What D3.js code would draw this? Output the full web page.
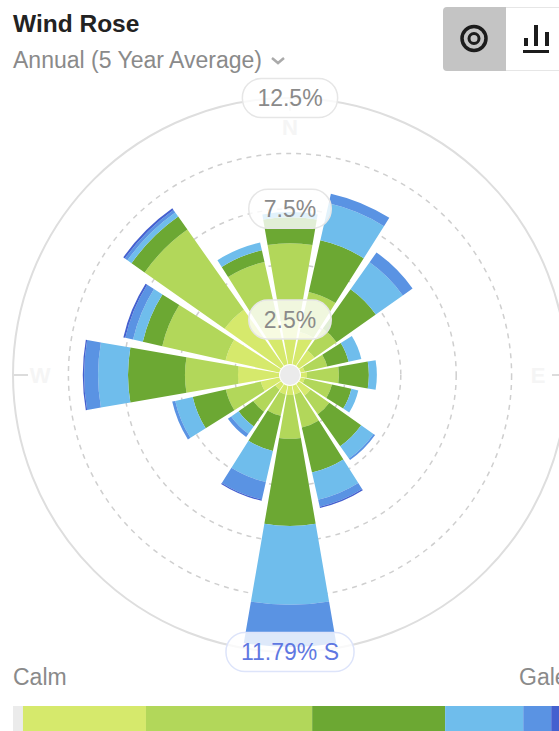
<!DOCTYPE html>
<html>
<head>
<meta charset="utf-8">
<script src="https://cdn.jsdelivr.net/npm/d3@7"></script>
<style>
  html, body { margin: 0; padding: 0; background: #fff; overflow: hidden; }
  svg { display: block; }
  text { font-family: "Liberation Sans", Arial, sans-serif; }
</style>
</head>
<body>
<div class="canvas"></div>
<script>
// directions, clockwise from north
const directions = ["N", "NNE", "NE", "ENE", "E", "ESE", "SE", "SSE", "S", "SSW", "SW", "WSW", "W", "WNW", "NW", "NNW"];

// % of time per speed band
const band1 = [2.48, 1.99, 1.35, 0.68, 0.77, 0.68, 1.13, 0.90, 0.90, 0.90, 0.81, 1.35, 2.35, 2.98, 3.61, 2.48];
const band2 = [3.47, 1.85, 1.22, 1.04, 1.44, 1.26, 1.04, 1.53, 1.98, 0.99, 1.22, 1.62, 2.39, 2.93, 4.42, 2.75];
const band3 = [1.17, 2.39, 2.17, 0.99, 1.35, 0.90, 1.76, 2.08, 3.93, 1.62, 0.81, 1.53, 2.57, 0.90, 0.72, 0.54];
const band4 = [0.23, 1.71, 1.49, 0.59, 0.36, 0.32, 0.68, 1.26, 3.56, 1.44, 0.41, 0.81, 1.35, 0.45, 0.23, 0.36];
const band5 = [0, 0.45, 0.54, 0, 0, 0, 0.09, 0.32, 1.90, 0.81, 0.18, 0.14, 0.63, 0.36, 0.14, 0];
const band6 = [0, 0, 0, 0, 0, 0, 0, 0.06, 0, 0.06, 0, 0, 0.06, 0.09, 0.09, 0];

const bandColors = ["#d6e96c", "#b2d75a", "#6ca833", "#6fbdec", "#5a93e3", "#4460cf"];

// rings and their labels
const ringValues = [2.5, 5, 7.5, 10];
const ringLabels = [2.5, 7.5, 12.5];
const maxValue = 12.5;
const peakLabel = "11.79% S";
const cardinals = ["N", "E", "W"];

// legend bar: share of the width per segment
const legendShares = [1.8, 22.2, 30, 24, 14.1, 5.05, 2.85];
const legendColors = ["#ebebeb"].concat(bandColors);

const width = 559, height = 731;
const center = { x: 290, y: 375 };
const outerR = 277;

const svg = d3.select(".canvas")
  .append("svg")
  .attr("width", width)
  .attr("height", height);

// header
svg.append("text").attr("x", 13).attr("y", 32)
  .attr("font-size", 24.5).attr("font-weight", "bold").attr("fill", "#222")
  .text("Wind Rose");
svg.append("text").attr("x", 13).attr("y", 68)
  .attr("font-size", 23).attr("fill", "#8a8a8a")
  .text("Annual (5 Year Average)");
svg.append("path")
  .attr("d", "M272,58 L278,63 L284,58")
  .attr("fill", "none").attr("stroke", "#aaa").attr("stroke-width", 2.5);

// view toggle
svg.append("rect").attr("x", 490).attr("y", 7.5).attr("width", 90).attr("height", 63).attr("rx", 4)
  .attr("fill", "#fff").attr("stroke", "#e6e6e6");
svg.append("path")
  .attr("d", "M506,7 H447 a4,4 0 0 0 -4,4 V67 a4,4 0 0 0 4,4 H506 Z")
  .attr("fill", "#c4c4c4");
svg.append("circle").attr("cx", 474).attr("cy", 38.5).attr("r", 12)
  .attr("fill", "none").attr("stroke", "#1c1c1c").attr("stroke-width", 3.5);
svg.append("circle").attr("cx", 474).attr("cy", 38.5).attr("r", 5)
  .attr("fill", "none").attr("stroke", "#1c1c1c").attr("stroke-width", 3);
const icon = svg.append("g").attr("fill", "#1c1c1c");
icon.append("rect").attr("x", 523).attr("y", 50).attr("width", 26).attr("height", 3);
icon.append("rect").attr("x", 524).attr("y", 38).attr("width", 4).attr("height", 8);
icon.append("rect").attr("x", 534).attr("y", 25).attr("width", 4).attr("height", 21);
icon.append("rect").attr("x", 545).attr("y", 32).attr("width", 4).attr("height", 14);

// rose
const graph = svg.append("g")
  .attr("transform", `translate(${center.x},${center.y})`);

const r = d3.scaleLinear().domain([0, maxValue]).range([0, outerR]);

const step = 2 * Math.PI / directions.length;
const angle = d3.scaleBand()
  .domain(directions)
  .range([-step / 2, 2 * Math.PI - step / 2])
  .paddingInner(0.13)
  .paddingOuter(0.065);

graph.selectAll(".ring")
  .data(ringValues)
  .enter().append("circle")
  .attr("class", "ring")
  .attr("r", d => r(d))
  .attr("fill", "none")
  .attr("stroke", "#cfcfcf")
  .attr("stroke-width", 1.5)
  .attr("stroke-dasharray", "5 5");

graph.append("circle")
  .attr("r", r(maxValue))
  .attr("fill", "none")
  .attr("stroke", "#dedede")
  .attr("stroke-width", 2);

// cardinal ticks and faint letters
graph.append("line").attr("x1", -276).attr("x2", -262).attr("stroke", "#dcdcdc").attr("stroke-width", 2);
graph.append("line").attr("x1", 262).attr("x2", 276).attr("stroke", "#dcdcdc").attr("stroke-width", 2);
graph.append("line").attr("y1", -276).attr("y2", -264).attr("stroke", "#e6e6e6").attr("stroke-width", 2);

const cardinalPos = d => d === "N" ? [0, -248] : d === "E" ? [248, 0] : [-250, 0];
graph.selectAll(".cardinal")
  .data(cardinals)
  .enter().append("text")
  .attr("class", "cardinal")
  .attr("x", d => cardinalPos(d)[0])
  .attr("y", d => cardinalPos(d)[1])
  .attr("text-anchor", "middle")
  .attr("dominant-baseline", "central")
  .attr("font-size", 22)
  .attr("font-weight", "bold")
  .attr("fill", "#f5f5f5")
  .text(d => d);

// stacked wedges
const table = directions.map((dir, i) => ({
  dir,
  band1: band1[i], band2: band2[i], band3: band3[i],
  band4: band4[i], band5: band5[i], band6: band6[i]
}));
const keys = ["band1", "band2", "band3", "band4", "band5", "band6"];
const stacked = d3.stack().keys(keys)(table);

const arcPath = d3.arc()
  .innerRadius(d => r(d[0]))
  .outerRadius(d => r(d[1]))
  .startAngle(d => angle(d.data.dir))
  .endAngle(d => angle(d.data.dir) + angle.bandwidth());

graph.selectAll(".band")
  .data(stacked)
  .enter().append("g")
  .attr("class", "band")
  .attr("fill", (d, i) => bandColors[i])
  .selectAll("path")
  .data(d => d.filter(s => s[1] > s[0]))
  .enter().append("path")
  .attr("d", arcPath);

// hub
graph.append("circle").attr("r", 11).attr("fill", "#fff");
graph.append("circle").attr("r", 10).attr("fill", "#ebebeb");

// pill labels sit on top of the wedges
const pill = (parent, txt, y, color, border) => {
  const g = parent.append("g").attr("transform", `translate(0,${y})`);
  const rect = g.append("rect");
  const t = g.append("text")
    .attr("text-anchor", "middle")
    .attr("dominant-baseline", "central")
    .attr("font-size", 23)
    .attr("fill", color)
    .text(txt);
  const w = t.node().getComputedTextLength() + 30;
  rect.attr("x", -w / 2).attr("y", -19.5).attr("width", w).attr("height", 39).attr("rx", 19)
    .attr("fill", "rgba(255,255,255,0.8)")
    .attr("stroke", border)
    .attr("stroke-width", 1.5);
};

ringLabels.forEach(v => pill(graph, `${v}%`, -r(v), "#8a8a8a", "#e6e6e6"));
pill(graph, peakLabel, outerR, "#5f78e2", "#dde4fa");

// legend
const legendX = d3.scaleLinear().domain([0, 100]).range([13, 567]);
const legendEnds = d3.cumsum(legendShares);

svg.selectAll(".legend")
  .data(legendShares)
  .enter().append("rect")
  .attr("class", "legend")
  .attr("x", (d, i) => legendX(legendEnds[i] - d))
  .attr("y", 706)
  .attr("width", d => legendX(d) - legendX(0))
  .attr("height", 25)
  .attr("fill", (d, i) => legendColors[i]);

svg.append("text").attr("x", 13).attr("y", 685).attr("font-size", 23).attr("fill", "#8a8a8a").text("Calm");
svg.append("text").attr("x", 519).attr("y", 685).attr("font-size", 23).attr("fill", "#8a8a8a").text("Gale");
</script>
</body>
</html>
